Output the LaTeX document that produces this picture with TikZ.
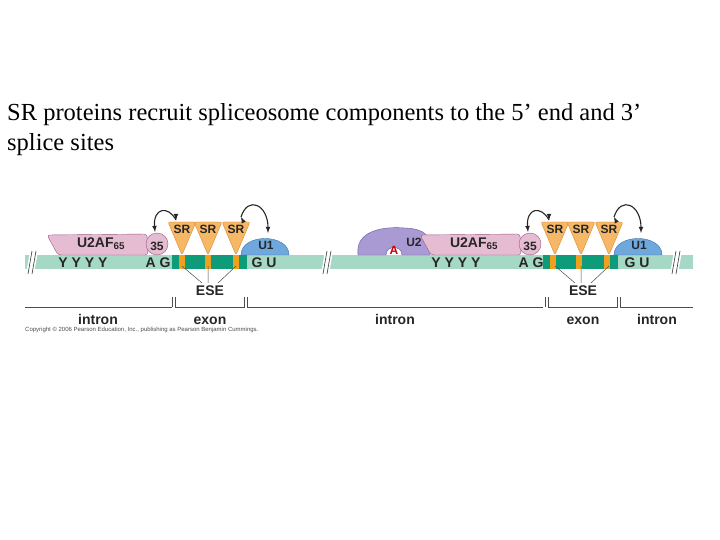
\documentclass[tikz,border=0pt]{standalone}
\usepackage{fontspec}
\setmainfont{Liberation Serif}
\newfontfamily\arial{Liberation Sans}
\definecolor{strandc}{HTML}{A6D8C6}
\definecolor{exonc}{HTML}{0E9B7A}
\definecolor{srfill}{HTML}{F6B867}
\definecolor{srdraw}{HTML}{D98A2A}
\definecolor{esec}{HTML}{F0A020}
\definecolor{u2affill}{HTML}{E6BCD3}
\definecolor{u2afdraw}{HTML}{9A5A80}
\definecolor{u1fill}{HTML}{6FA8DC}
\definecolor{u1draw}{HTML}{3A6EA8}
\definecolor{u2fill}{HTML}{A99AD3}
\definecolor{u2draw}{HTML}{6A5AA0}
\begin{document}
\begin{tikzpicture}[x=1pt,y=-1pt,
 lbl/.style={font=\arial\bfseries\fontsize{14}{14}\selectfont,text=black!85,inner sep=0},
 blbl/.style={lbl,anchor=base},
 slbl/.style={font=\arial\bfseries\fontsize{12}{12}\selectfont,text=black!85,inner sep=0},
 sr/.style={fill=srfill,draw=srdraw,line width=0.4pt},
 u2af/.style={fill=u2affill,draw=u2afdraw,line width=0.4pt},
 u1/.style={fill=u1fill,draw=u1draw,line width=0.4pt},
 arr/.style={line width=1.1pt,black!85},
 brk/.style={line width=0.6pt,black!80}]
\useasboundingbox (0,0) rectangle (720,540);
\node[anchor=west,font=\fontsize{24.5}{24}\selectfont,inner sep=0] (t1) at (7,115) {SR proteins recruit spliceosome components to the 5’ end and 3’};
\node[anchor=west,font=\fontsize{24.5}{24}\selectfont,inner sep=0] (t2) at (7,145) {splice sites};
\fill[strandc] (25,255) rectangle (693,269);
\foreach \xa in {172,543}{
 \fill[exonc] (\xa,255) rectangle (\xa+75,269);
 \foreach \d in {10,36,64}{\fill[esec] (\xa+\d-3,255) rectangle (\xa+\d+3,269);}
}
\foreach \xb in {36,331,680}{
 \fill[white] (\xb-6,251) -- (\xb+2,251) -- (\xb-2,274) -- (\xb-10,274) -- cycle;
 \draw[brk] (\xb-4,251) -- (\xb-8,274) (\xb,251) -- (\xb-4,274);
}
\draw[fill=u2fill,draw=u2draw,line width=0.4pt] (358,255) .. controls (355,232) and (380,226) .. (405,228) .. controls (425,229) and (432,235) .. (430,255) -- (402,255) .. controls (402,245) and (386,245) .. (386,255) -- cycle;
\node[font=\arial\bfseries\fontsize{12}{12}\selectfont,text=red!80!black,inner sep=0] (A) at (394,250) {A};
\node[slbl] (U2) at (414,242) {U2};
\foreach \ox/\nm in {0/a,373/b}{
 \begin{scope}[shift={(\ox,0)}]
 \draw[u2af,rounded corners=3pt] (47,235) -- (147,234) -- (148,255) -- (58,255) -- cycle;
 \node[lbl] (u2af\nm) at (101,244) {U2AF\textsubscript{65}};
 \draw[u2af] (157,244) circle (11);
 \node[slbl] (c35\nm) at (157,246) {35};
 \draw[u1] (241,255) .. controls (241,233) and (289,233) .. (289,255) -- cycle;
 \node[slbl] (u1\nm) at (266,245) {U1};
 \foreach \d in {10,36,64}{
  \draw[sr,rounded corners=2pt] (172+\d-14,222) -- (172+\d+14,222) -- (172+\d,255) -- cycle;
  \node[slbl] at (172+\d,229) {SR};
 }
 \coordinate (s1\nm) at (176,220);
 \coordinate (d1\nm) at (155,232);
 \coordinate (s2\nm) at (241,217);
 \coordinate (d2\nm) at (268,233);
 \draw[arr,-latex] (s1\nm) .. controls (168,205) and (153,208) .. (d1\nm);
 \draw[arr,-latex] (176,218) -- (s1\nm);
 \draw[arr,-latex] (s2\nm) .. controls (248,195) and (268,205) .. (d2\nm);
 \draw[arr,-latex] (242,219) -- (s2\nm);
 \node[blbl] (yy\nm) at (83,267) {Y Y Y Y};
 \node[blbl] (ag\nm) at (158,267) {A G};
 \node[blbl] (gu\nm) at (264,267) {G U};
 \node[blbl] (ese\nm) at (210,295) {ESE};
 \draw[black!70,line width=0.5pt] (182,266) -- (202,283) (208,266) -- (208,283) (236,266) -- (218,283);
 \draw[black!70,line width=0.6pt] (172,297) -- (172,307) (175,297) -- (175,307) -- (244,307) -- (244,297) (247,297) -- (247,307);
 \node[blbl] (ex\nm) at (210,324) {exon};
 \end{scope}
}
\draw[black!70,line width=0.6pt] (25,307) -- (172,307) (247,307) -- (543,307) (620,307) -- (693,307);
\node[blbl] (in1) at (98,324) {intron};
\node[blbl] (in2) at (395,324) {intron};
\node[blbl] (in3) at (657,324) {intron};
\node[anchor=west,font=\arial\fontsize{6}{6}\selectfont,text=black!70,inner sep=0] (cp) at (25,330) {Copyright © 2006 Pearson Education, Inc., publishing as Pearson Benjamin Cummings.};
\end{tikzpicture}
\end{document}
